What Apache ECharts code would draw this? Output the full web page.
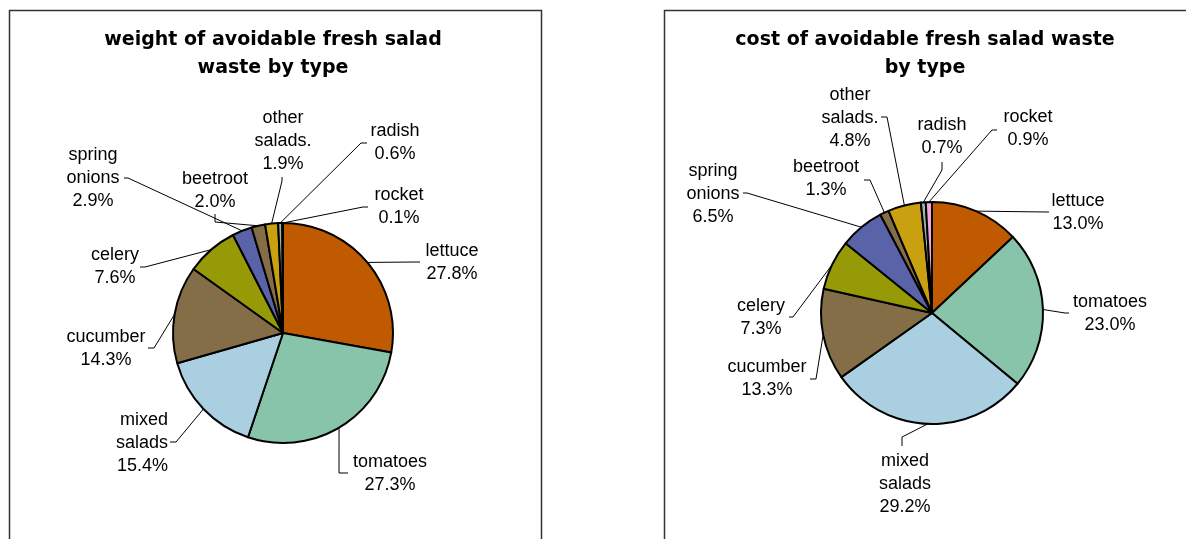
<!DOCTYPE html>
<html><head><meta charset="utf-8">
<script src="https://cdn.jsdelivr.net/npm/echarts@6/dist/echarts.min.js"></script>
<style>html,body{margin:0;padding:0;background:#fff}#c{width:1186px;height:539px}</style>
</head><body><div id="c"></div>
<script>
// ---- data ----
const categories = ['lettuce','tomatoes','mixed salads','cucumber','celery','spring onions','beetroot','other salads.','radish','rocket'];
const weightValues = [27.8, 27.3, 15.4, 14.3, 7.6, 2.9, 2.0, 1.9, 0.6, 0.1];
const costValues   = [13.0, 23.0, 29.2, 13.3, 7.3, 6.5, 1.3, 4.8, 0.7, 0.9];
const weightTitle = 'weight of avoidable fresh salad\nwaste by type';
const costTitle   = 'cost of avoidable fresh salad waste\nby type';

// ---- styles / layout ----
const colors = ['#C05A00','#88C4AA','#AACFE0','#846E48','#969A06','#5A62A8','#846E48','#C8A010','#A0B8A8','#F4A6D6'];
// label placement: [labelX, labelY, align, elbow, end]
const leftLabels = [
  [452, 263, 'center', [415, 262], [420, 262]],
  [390, 474, 'center', [339, 473], [348, 473]],
  [168, 443, 'right',  [176, 442], [170, 442]],
  [106, 349, 'center', [154, 348], [148, 348]],
  [115, 267, 'center', [145, 267], [140, 267]],
  [93, 178, 'center',  [128, 178], [124, 178]],
  [215, 191, 'center', [215, 222], [215, 214]],
  [283, 141, 'center', [282, 181], [282, 177]],
  [395, 143, 'center', [361, 143], [367, 143]],
  [399, 207, 'center', [363, 207], [368, 207]]
];
const rightLabels = [
  [1078, 213, 'center', [1047, 212], [1049, 212]],
  [1110, 314, 'center', [1065, 313], [1069, 313]],
  [905, 484, 'center',  [902, 437], [902, 446]],
  [767, 379, 'center',  [816, 379], [810, 379]],
  [761, 318, 'center',  [793, 317], [789, 317]],
  [713, 194, 'center',  [747, 193], [743, 193]],
  [826, 179, 'center',  [870, 180], [864, 180]],
  [850, 118, 'center',  [887, 117], [881, 117]],
  [942, 137, 'center',  [942, 170], [942, 162]],
  [1028, 129, 'center', [992, 130], [997, 130]]
];

function makeData(vals) {
  return categories.map((c, i) => ({ name: c, value: vals[i], itemStyle: { color: colors[i] } }));
}
function layoutFn(table) {
  return function (params) {
    const L = table[params.dataIndex];
    const p0 = params.labelLinePoints ? params.labelLinePoints[0] : L[3];
    return { x: L[0], y: L[1], align: L[2], verticalAlign: 'middle', labelLinePoints: [p0, L[3], L[4]] };
  };
}
const labelStyle = {
  show: true, position: 'outside', color: '#000',
  fontFamily: 'Liberation Sans, Arial, sans-serif', fontSize: 18, lineHeight: 23,
  formatter: p => p.name.replace(' ', '\n') + '\n' + p.value.toFixed(1) + '%'
};
const lineStyle = { show: true, length: 10, length2: 10, lineStyle: { color: '#000', width: 1 } };

function pie(vals, center, r, table) {
  return {
    type: 'pie', center: center, radius: r, startAngle: 90, clockwise: true,
    avoidLabelOverlap: false, animation: false, silent: true,
    itemStyle: { borderColor: '#000', borderWidth: 2 },
    label: labelStyle, labelLine: lineStyle,
    labelLayout: layoutFn(table),
    data: makeData(vals)
  };
}

const chart = echarts.init(document.getElementById('c'));
chart.setOption({
  animation: false,
  title: [
    { text: weightTitle, left: 273, top: 26, textAlign: 'center', padding: 0,
      textStyle: { fontFamily: 'DejaVu Sans', fontWeight: 'bold', fontSize: 19, lineHeight: 28, color: '#000' } },
    { text: costTitle, left: 925, top: 26, textAlign: 'center', padding: 0,
      textStyle: { fontFamily: 'DejaVu Sans', fontWeight: 'bold', fontSize: 19, lineHeight: 28, color: '#000' } }
  ],
  graphic: [
    { type: 'rect', shape: { x: 9.5, y: 10.5, width: 532, height: 600 }, style: { fill: 'none', stroke: '#333', lineWidth: 1.5 }, silent: true },
    { type: 'rect', shape: { x: 664.5, y: 10.5, width: 600, height: 600 }, style: { fill: 'none', stroke: '#333', lineWidth: 1.5 }, silent: true }
  ],
  series: [
    pie(weightValues, [283, 333], 110, leftLabels),
    pie(costValues, [932, 313], 111, rightLabels)
  ]
});
</script>
</body></html>
